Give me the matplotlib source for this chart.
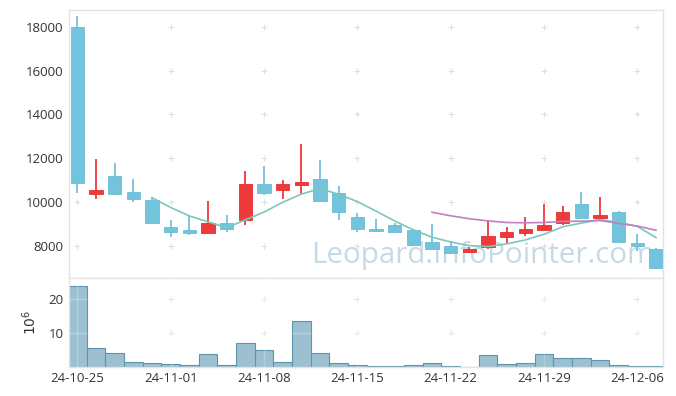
import matplotlib
matplotlib.use("Agg")
import matplotlib.pyplot as plt
import numpy as np
import pandas as pd

plt.rcParams['font.family'] = ['Open Sans', 'DejaVu Sans']

dates = ["24-10-25", "24-10-28", "24-10-29", "24-10-30", "24-10-31", "24-11-01",
         "24-11-04", "24-11-05", "24-11-06", "24-11-07", "24-11-08",
         "24-11-11", "24-11-12", "24-11-13", "24-11-14", "24-11-15",
         "24-11-18", "24-11-19", "24-11-20", "24-11-21", "24-11-22",
         "24-11-25", "24-11-26", "24-11-27", "24-11-28", "24-11-29",
         "24-12-02", "24-12-03", "24-12-04", "24-12-05", "24-12-06", "24-12-09"]
opens = [18000, 10360, 11180, 10450, 10090, 8850, 8700, 8590, 9040, 9190, 10830,
         10540, 10770, 11030, 10390, 9290, 8760, 8950, 8720, 8150, 7990,
         7730, 7950, 8410, 8590, 8720, 9020, 9900, 9280, 9540, 8110, 7840]
highs = [18500, 11950, 11760, 11030, 10240, 9170, 9400, 10040, 9400, 11400, 11640,
         11000, 12640, 11910, 10730, 9480, 9220, 9050, 8720, 8990, 8230,
         7930, 9140, 8870, 9290, 9900, 9800, 10430, 10210, 9580, 8520, 7880]
lows = [10400, 10120, 10320, 10010, 9050, 8410, 8480, 8560, 8610, 8930, 10300,
        10120, 10360, 9980, 9170, 8610, 8610, 8570, 8000, 7800, 7640,
        7680, 7840, 8140, 8440, 8700, 8950, 9280, 9170, 8180, 7770, 7000]
closes = [10880, 10540, 10370, 10130, 9050, 8640, 8600, 9040, 8780, 10830, 10420,
          10830, 10910, 10040, 9550, 8740, 8670, 8640, 8030, 7860, 7650,
          7830, 8440, 8630, 8760, 8950, 9540, 9280, 9400, 8180, 8000, 7000]
volumes = [23.9, 5.45, 3.97, 1.3, 1.0, 0.7, 0.4, 3.7, 0.4, 6.9, 4.9,
           1.3, 13.5, 3.97, 1.0, 0.5, 0.2, 0.2, 0.5, 1.0, 0.2,
           0.0, 3.4, 0.7, 1.0, 3.7, 2.6, 2.6, 1.9, 0.5, 0.2, 0.2]
price_ticks = [8000, 10000, 12000, 14000, 16000, 18000]
vol_ticks = [10, 20]

W, H = 676, 396
fig = plt.figure(figsize=(W / 100, H / 100), dpi=100)
left, right = 69 / W, 663.3 / W
ax = fig.add_axes([left, 1 - 278.3 / H, right - left, (278.3 - 10) / H])
axv = fig.add_axes([left, 1 - 366.7 / H, right - left, (366.7 - 278.3) / H], sharex=ax)

x = np.arange(len(dates))
o = np.array(opens); c = np.array(closes); h = np.array(highs); l = np.array(lows)
up = c >= o
blue = '#72c3dc'
red = '#ee3a3a'
cols = np.where(up, red, blue)
edge = np.where(up, '#e23030', '#6bbcd6')

ax.vlines(x, l, h, colors=cols, linewidth=1.3, zorder=3)
bottoms = np.minimum(o, c)
heights = np.maximum(np.abs(c - o), 40)
ax.bar(x, heights, bottom=bottoms, width=0.7, color=cols, edgecolor=edge, linewidth=0.6, zorder=4)

s = pd.Series(closes)
ma5 = s.rolling(5).mean()
ma20 = s.rolling(20).mean()
ax.plot(x, ma5, color='#7cc7bd', linewidth=1.2, zorder=5)
ax.plot(x, ma20, color='#c37fbf', linewidth=1.2, zorder=5)

ax.text(0.986, 0.057, 'Leopard.InfoPointer.com', transform=ax.transAxes, ha='right', va='baseline',
        fontsize=21.3, color='#c6dae6', zorder=1, family=['Open Sans', 'DejaVu Sans'])

ax.set_ylim(6511, 18763)
ax.set_xlim(-0.445, 31.39)
ax.set_yticks(price_ticks)
ax.set_yticklabels([str(t) for t in price_ticks])

tick_idx = list(range(0, len(dates), 5))
axv.set_xticks(tick_idx)
axv.set_xticklabels([dates[i] for i in tick_idx])

axv.bar(x, volumes, width=1.0, color='#9cc0d0', edgecolor='#5f93ab', linewidth=0.8, zorder=2)
axv.set_ylim(0, 26.2)
axv.set_yticks(vol_ticks)
axv.set_yticklabels([str(t) for t in vol_ticks])
axv.set_ylabel(r'$10^6$', fontsize=10, color='#333333', labelpad=6)

for a in (ax, axv):
    for sp in a.spines.values():
        sp.set_color('#e3e3e3')
        sp.set_linewidth(1.0)
    a.tick_params(length=0, labelsize=9.5, colors='#333333', pad=4)
    a.set_facecolor('white')

plt.setp(ax.get_xticklabels(), visible=False)

# cross markers at grid intersections
gx, gy = np.meshgrid(tick_idx, price_ticks)
ax.scatter(gx.ravel(), gy.ravel(), marker='+', s=22, color='#e0e0e0', linewidths=0.8, zorder=2)
gx2, gy2 = np.meshgrid(tick_idx, vol_ticks)
axv.scatter(gx2.ravel(), gy2.ravel(), marker='+', s=22, color='#e0e0e0', linewidths=0.8, zorder=1)
for t in tick_idx:
    axv.axvline(t, color='white', alpha=0.25, linewidth=1, zorder=3)
for t in vol_ticks:
    axv.axhline(t, color='white', alpha=0.25, linewidth=1, zorder=3)

fig.savefig('out.png', dpi=100)
